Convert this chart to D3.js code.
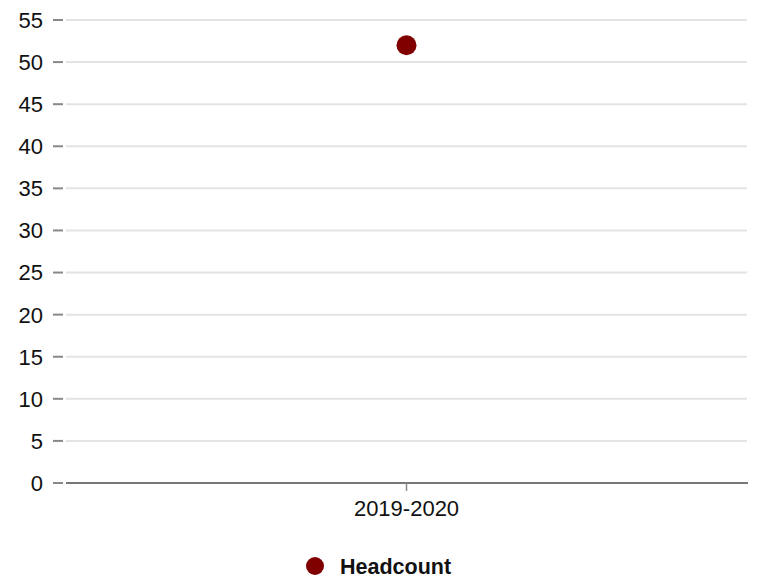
<!DOCTYPE html>
<html><head><meta charset="utf-8">
<script src="https://cdn.jsdelivr.net/npm/d3@7"></script>
<style>body{margin:0;background:#fff}svg{display:block;font-family:"Liberation Sans",Arial,sans-serif}</style>
</head><body>
<script>
const categories = ["2019-2020"];
const headcount = [52];
const yTicks = [0,5,10,15,20,25,30,35,40,45,50,55];
const seriesName = "Headcount";

const W = 759, H = 581;
const m = {left: 66, right: 12, top: 20, bottom: 98};
const svg = d3.select("body").append("svg").attr("width", W).attr("height", H);

const x = d3.scaleBand().domain(categories).range([m.left, W - m.right]);
const y = d3.scaleLinear().domain([0, 55]).range([H - m.bottom, m.top]);

// gridlines
svg.append("g").selectAll("line").data(yTicks.filter(d => d !== 0)).join("line")
  .attr("x1", m.left).attr("x2", W - m.right)
  .attr("y1", d => y(d)).attr("y2", d => y(d))
  .attr("stroke", "#e3e3e3").attr("stroke-width", 2);

// y axis tick marks + labels
const ya = svg.append("g");
ya.selectAll("line").data(yTicks).join("line")
  .attr("x1", 53).attr("x2", 63)
  .attr("y1", d => y(d)).attr("y2", d => y(d))
  .attr("stroke", "#888").attr("stroke-width", 2);
ya.selectAll("text").data(yTicks).join("text")
  .attr("x", 43).attr("y", d => y(d)).attr("dy", "0.36em")
  .attr("text-anchor", "end").attr("font-size", 22).attr("fill", "#111")
  .text(d => d);

// baseline
svg.append("line").attr("x1", m.left).attr("x2", W - m.right + 1)
  .attr("y1", y(0)).attr("y2", y(0)).attr("stroke", "#777").attr("stroke-width", 2);

// x ticks
const xa = svg.append("g");
xa.selectAll("line").data(categories).join("line")
  .attr("x1", d => x(d) + x.bandwidth()/2).attr("x2", d => x(d) + x.bandwidth()/2)
  .attr("y1", y(0)).attr("y2", y(0) + 8).attr("stroke", "#888").attr("stroke-width", 1.5);
xa.selectAll("text").data(categories).join("text")
  .attr("x", d => x(d) + x.bandwidth()/2).attr("y", y(0) + 33)
  .attr("text-anchor", "middle").attr("font-size", 22).attr("fill", "#111")
  .text(d => d);

// points
svg.append("g").selectAll("circle").data(headcount).join("circle")
  .attr("cx", (d,i) => x(categories[i]) + x.bandwidth()/2)
  .attr("cy", d => y(d)).attr("r", 10).attr("fill", "#800000");

// legend
const lg = svg.append("g");
lg.append("circle").attr("cx", 315).attr("cy", 566).attr("r", 9).attr("fill", "#800000");
lg.append("text").attr("x", 340).attr("y", 566).attr("dy", "0.36em")
  .attr("font-size", 21.5).attr("font-weight", "bold").attr("fill", "#111").text(seriesName);
</script>
</body></html>
